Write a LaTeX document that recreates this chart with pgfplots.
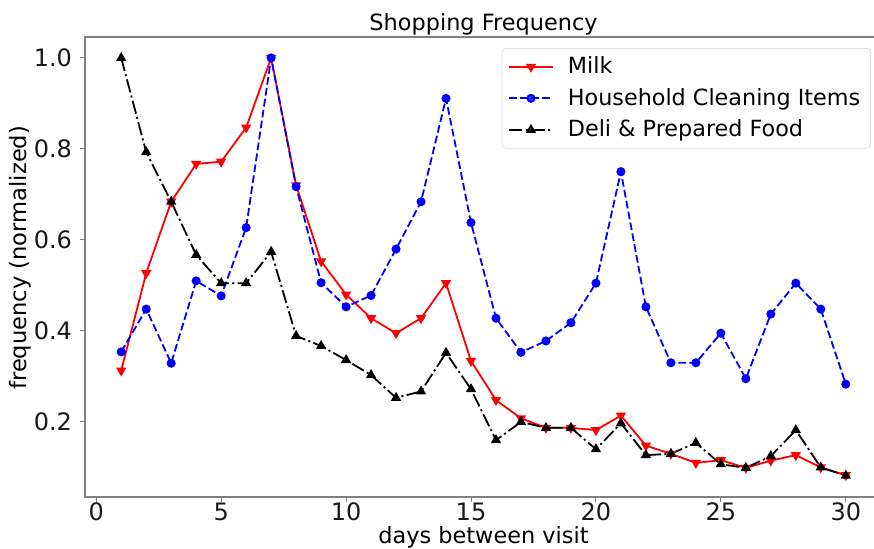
\documentclass[border=0pt]{standalone}
\usepackage{fontspec}
\setmainfont{DejaVu Sans}
\usepackage{pgfplots}
\pgfplotsset{compat=1.18}
\begin{document}
\begin{tikzpicture}
\begin{axis}[
  scale only axis, width=398.5pt, height=230pt,
  xmin=-0.45, xmax=31.45, ymin=0.035, ymax=1.046,
  xtick={0,5,10,15,20,25,30},
  ytick={0.2,0.4,0.6,0.8,1.0},
  yticklabel style={/pgf/number format/fixed, /pgf/number format/fixed zerofill, /pgf/number format/precision=1},
  /pgf/number format/assume math mode=true,
  ticklabel style={font=\fontsize{12}{14}\selectfont, text=black!90},
  xtick pos=bottom, ytick pos=left,
  tick align=outside, major tick length=2.5pt,
  tick style={gray, line width=0.5pt},
  axis line style={gray, line width=0.8pt},
  xticklabel style={yshift=3pt},
  yticklabel style={xshift=-0.5pt},
  title={Shopping Frequency},
  title style={font=\fontsize{11.2}{13}\selectfont, at={(axis description cs:0.5,1)}, anchor=base, yshift=-2.5pt, inner sep=0pt},
  xlabel={days between visit},
  xlabel style={font=\fontsize{11.2}{13}\selectfont, at={(axis description cs:0.5,0)}, anchor=base, yshift=-23.2pt, inner sep=0pt},
  ylabel={frequency (normalized)},
  ylabel style={font=\fontsize{11.3}{13}\selectfont, at={(axis description cs:-0.081,0.52)}, anchor=center, inner sep=0pt},
  legend cell align=left,
  legend image code/.code={\draw[mark repeat=2,mark phase=2,#1] plot coordinates {(0pt,0pt) (11pt,0pt) (22pt,0pt)};},
  legend style={at={(axis description cs:1,1)}, xshift=-5.5pt, yshift=-5.5pt, anchor=north east,
    draw=gray!25, rounded corners=2pt, fill=white, fill opacity=0.8, text opacity=1,
    font=\fontsize{11.15}{13}\selectfont, inner xsep=3pt, inner ysep=2pt,
    row sep=1.4pt, column sep=4.8pt, nodes={inner sep=2.2pt}},
]
\addplot[red, line width=0.9pt, mark=triangle*, mark size=2.1pt, mark options={solid, rotate=180, fill=red}]
coordinates {
(1,0.313) (2,0.527) (3,0.684) (4,0.767) (5,0.772) (6,0.847) (7,1.0) (8,0.72) (9,0.553) (10,0.48)
(11,0.428) (12,0.395) (13,0.428) (14,0.505) (15,0.334) (16,0.248) (17,0.208) (18,0.187) (19,0.187) (20,0.182)
(21,0.214) (22,0.148) (23,0.13) (24,0.11) (25,0.116) (26,0.099) (27,0.115) (28,0.127) (29,0.1) (30,0.083)
};
\addlegendentry{Milk}
\addplot[blue, line width=0.9pt, dash pattern=on 3.85pt off 1.67pt, mark=*, mark size=1.8pt, mark options={solid, fill=blue}]
coordinates {
(1,0.354) (2,0.448) (3,0.329) (4,0.51) (5,0.477) (6,0.627) (7,1.0) (8,0.717) (9,0.506) (10,0.453)
(11,0.478) (12,0.58) (13,0.684) (14,0.911) (15,0.638) (16,0.428) (17,0.353) (18,0.378) (19,0.418) (20,0.505)
(21,0.75) (22,0.453) (23,0.33) (24,0.33) (25,0.395) (26,0.295) (27,0.437) (28,0.505) (29,0.448) (30,0.283)
};
\addlegendentry{Household Cleaning Items}
\addplot[black, line width=0.9pt, dash pattern=on 6.7pt off 1.67pt on 1.04pt off 1.67pt, mark=triangle*, mark size=2.1pt, mark options={solid, fill=black}]
coordinates {
(1,1.0) (2,0.793) (3,0.684) (4,0.567) (5,0.505) (6,0.505) (7,0.574) (8,0.389) (9,0.367) (10,0.336)
(11,0.303) (12,0.253) (13,0.267) (14,0.352) (15,0.272) (16,0.16) (17,0.2) (18,0.187) (19,0.187) (20,0.14)
(21,0.197) (22,0.127) (23,0.13) (24,0.154) (25,0.107) (26,0.099) (27,0.125) (28,0.182) (29,0.1) (30,0.082)
};
\addlegendentry{Deli \& Prepared Food}
\end{axis}
\pgfresetboundingbox
\path ([xshift=-42.5pt,yshift=-25.5pt]current axis.south west) rectangle ([xshift=-4pt,yshift=18.5pt]current axis.north east);
\end{tikzpicture}
\end{document}
